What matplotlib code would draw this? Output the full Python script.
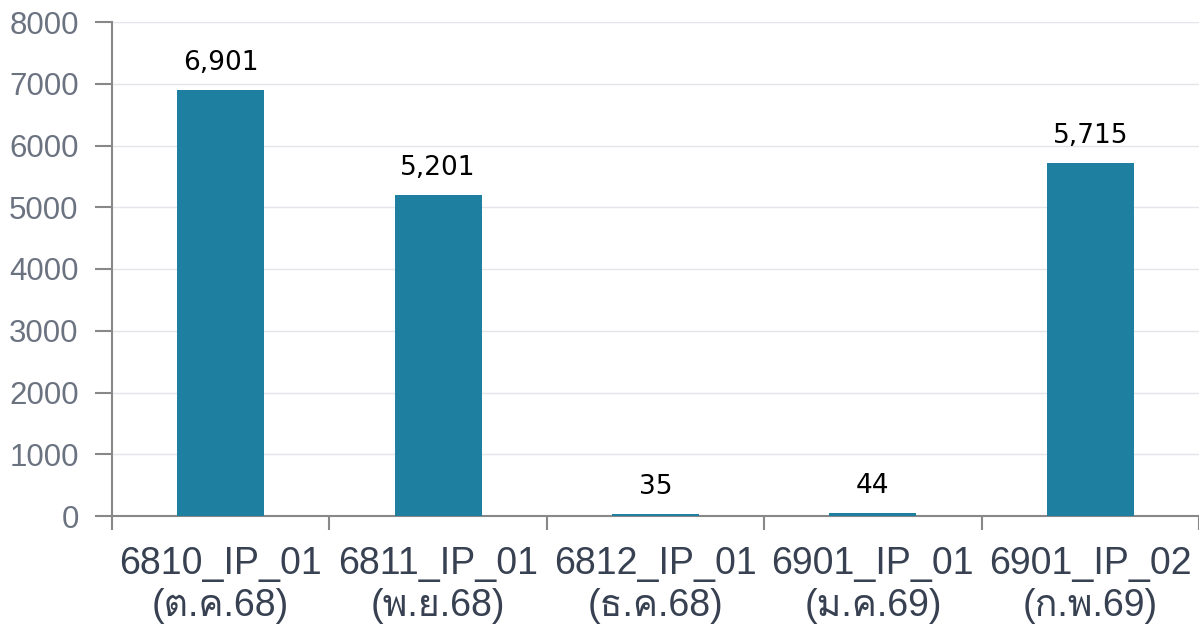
import matplotlib
matplotlib.use('Agg')
import matplotlib.pyplot as plt
import numpy as np

# data
codes = ['6810_IP_01', '6811_IP_01', '6812_IP_01', '6901_IP_01', '6901_IP_02']
months = ['(ต.ค.68)', '(พ.ย.68)', '(ธ.ค.68)', '(ม.ค.69)', '(ก.พ.69)']
values = [6901, 5201, 35, 44, 5715]
y_ticks = [0, 1000, 2000, 3000, 4000, 5000, 6000, 7000, 8000]

label_fonts = ['Liberation Sans', 'Loma', 'Garuda', 'Noto Sans Thai Looped',
               'Noto Serif Thai', 'Noto Sans Thai', 'Noto Sans', 'DejaVu Sans']

fig = plt.figure(figsize=(11.99, 6.25), dpi=100)
ax = fig.add_axes([112 / 1199, 1 - 516 / 625, 1 - 112 / 1199, (516 - 22) / 625])

x = np.arange(len(codes))
ax.bar(x, values, width=0.4, color='#1f7fa0', zorder=3)

for xi, v in zip(x, values):
    ax.text(xi, v + 230, '{:,}'.format(v), ha='center', va='bottom',
            fontsize=19, family='DejaVu Sans', color='black')

ax.set_xlim(-0.5, len(codes) - 0.5)
ax.set_ylim(0, 8000)
ax.set_yticks(y_ticks)
ax.set_yticklabels([str(t) for t in y_ticks], fontsize=22.5,
                   family=label_fonts, color='#6b7280')
ax.grid(axis='y', color='#e4e4ea', linewidth=1, zorder=0)

# category boundaries carry the x tick marks
ax.set_xticks(np.arange(len(codes) + 1) - 0.5)
ax.set_xticklabels([])
ax.tick_params(axis='x', length=10, width=1.5, color='#888888', direction='out')
ax.tick_params(axis='y', length=12, width=1.5, color='#888888', direction='out', pad=12)

for xi, c, m in zip(x, codes, months):
    ax.text(xi, -0.06, c, transform=ax.get_xaxis_transform(), ha='center', va='top',
            fontsize=27, family=label_fonts, color='#374151')
    ax.text(xi, -0.145, m, transform=ax.get_xaxis_transform(), ha='center', va='top',
            fontsize=27, family=label_fonts, color='#374151')

for s in ['top', 'right']:
    ax.spines[s].set_visible(False)
ax.spines['left'].set_color('#888888')
ax.spines['left'].set_linewidth(1.5)
ax.spines['bottom'].set_color('#888888')
ax.spines['bottom'].set_linewidth(1.5)

fig.savefig('out.png', dpi=100)
